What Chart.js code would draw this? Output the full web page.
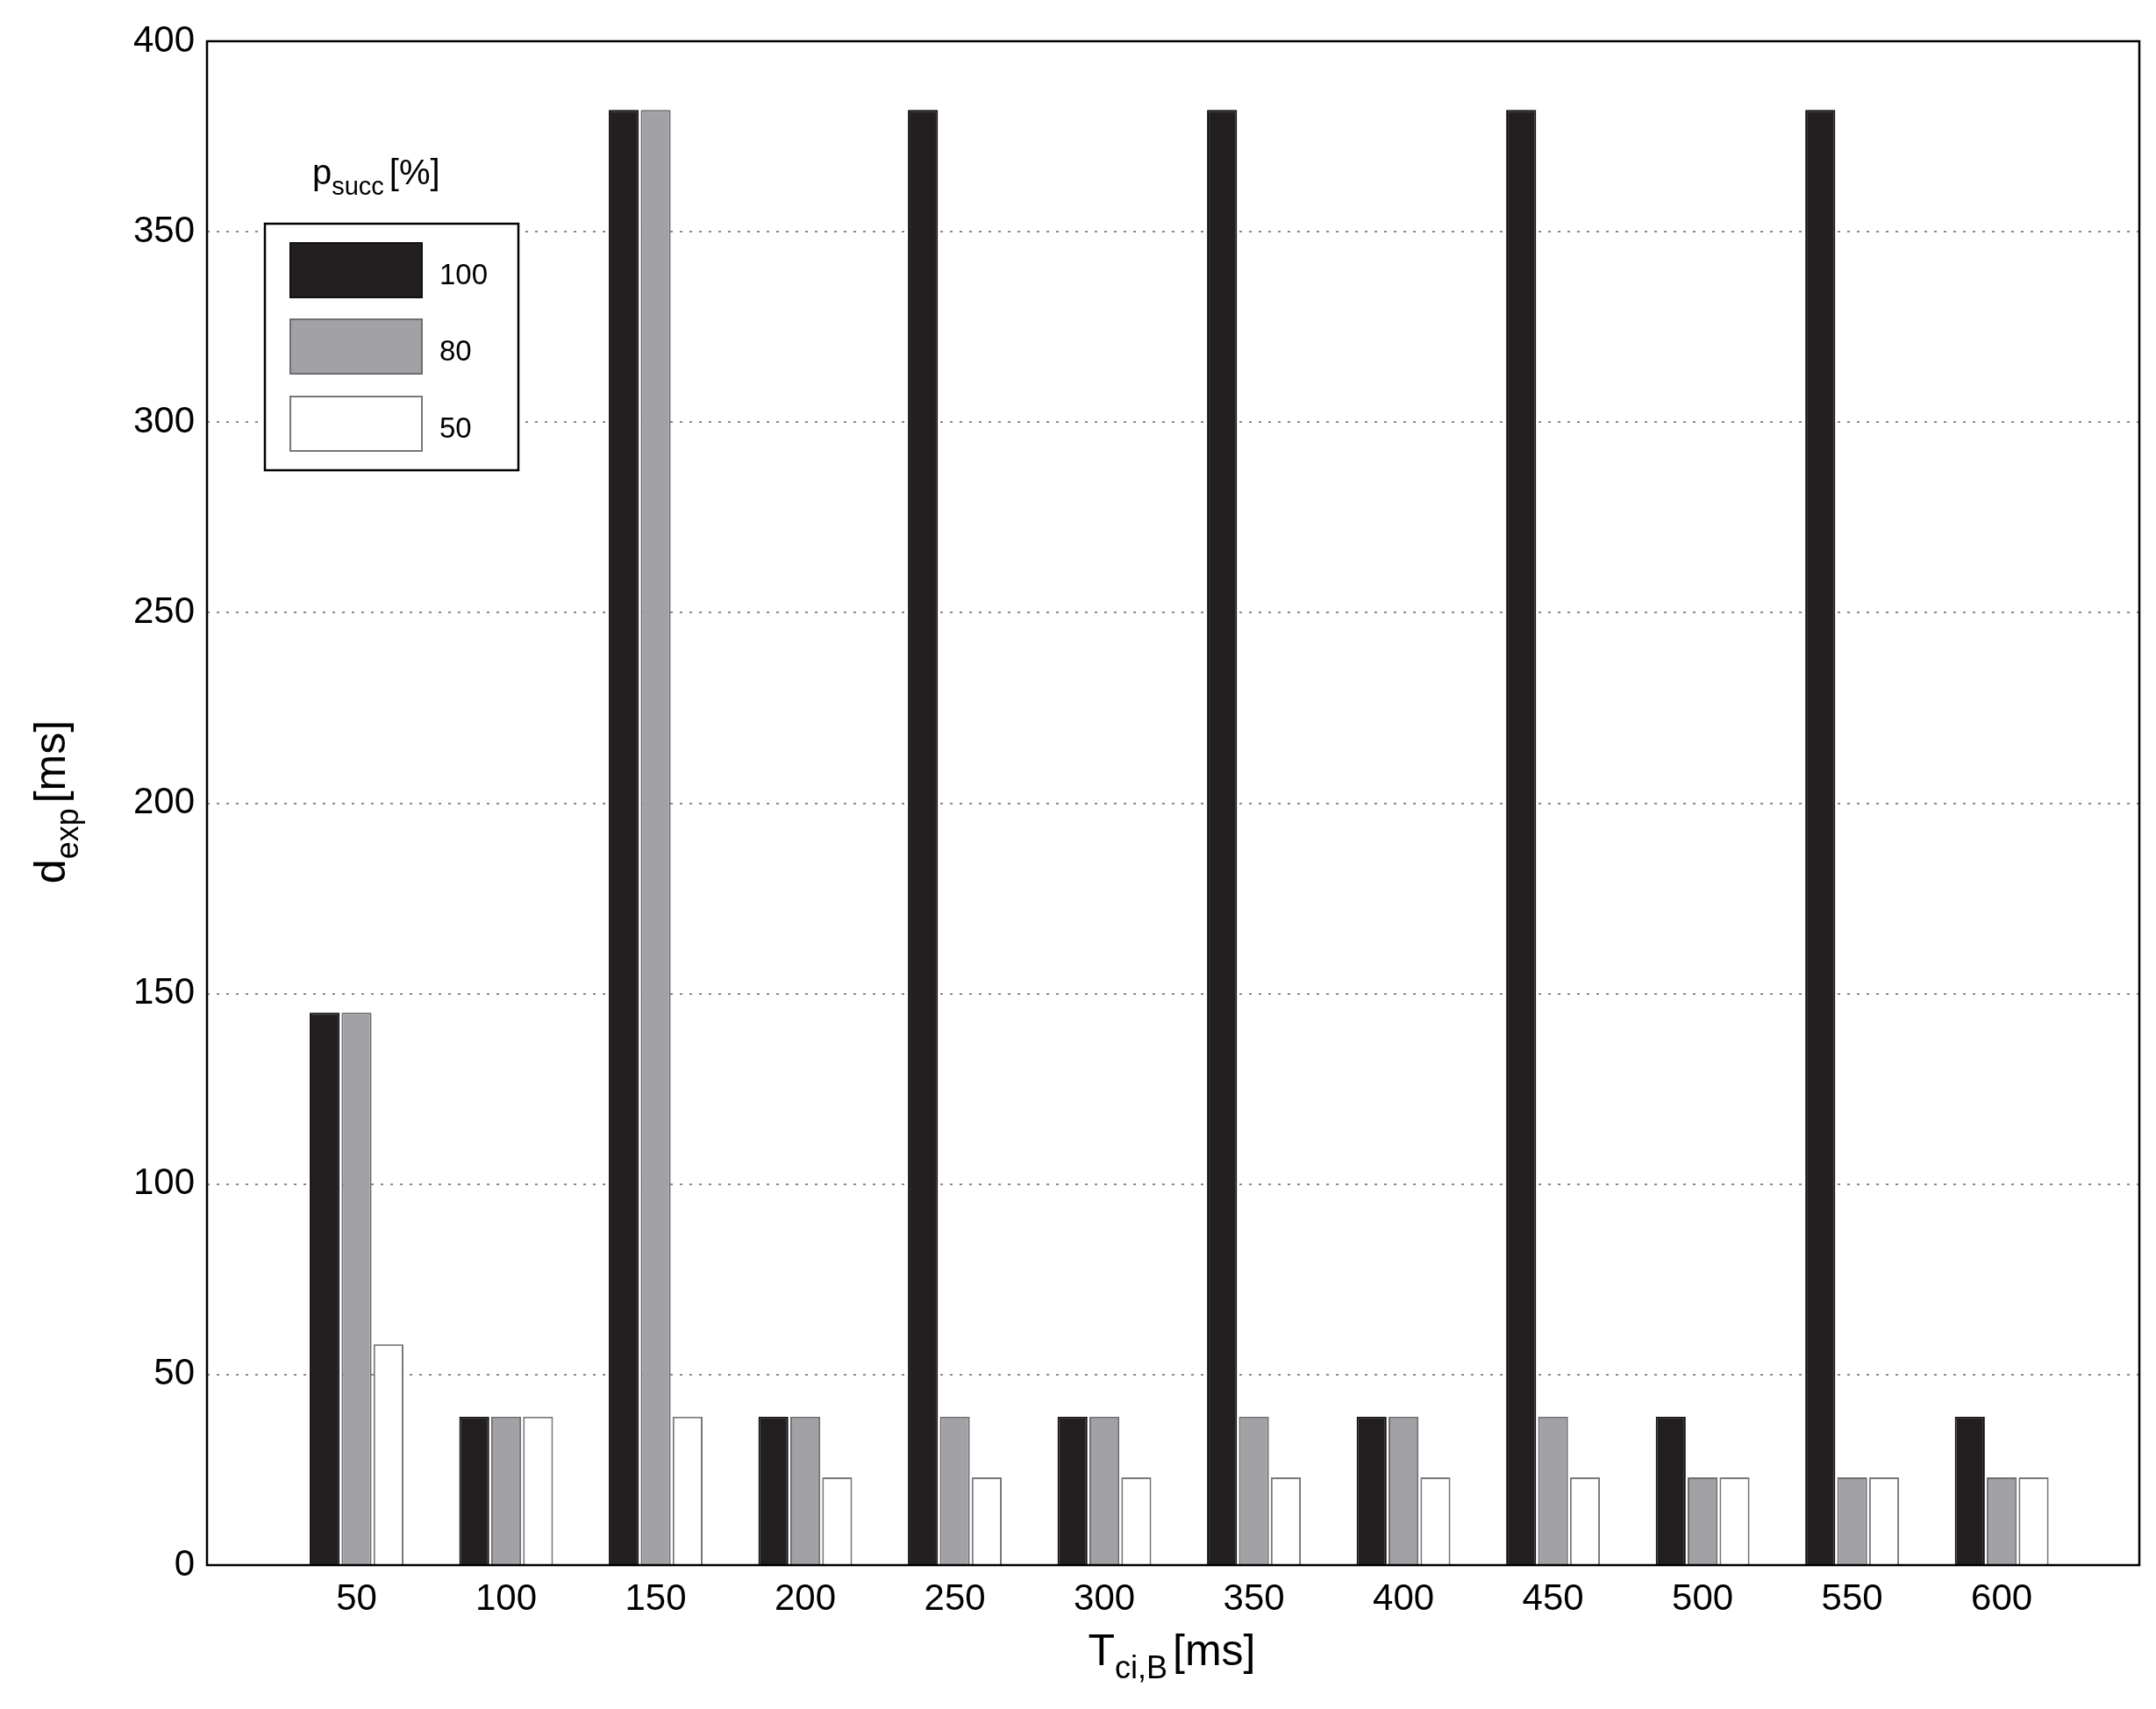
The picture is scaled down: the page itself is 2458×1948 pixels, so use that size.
<!DOCTYPE html>
<html>
<head>
<meta charset="utf-8">
<script src="https://cdn.jsdelivr.net/npm/chart.js@4.4.0/dist/chart.umd.min.js"></script>
<style>
  html, body { margin: 0; padding: 0; background: #fff; }
  #wrap { width: 2458px; height: 1948px; }
</style>
</head>
<body>
<div id="wrap"><canvas id="canvas"></canvas></div>
<script>
var periods = [50, 100, 150, 200, 250, 300, 350, 400, 450, 500, 550, 600];
var series100 = [145, 39, 382, 39, 382, 39, 382, 39, 382, 39, 382, 39];
var series80 = [145, 39, 382, 39, 39, 39, 39, 39, 39, 23, 23, 23];
var series50 = [58, 39, 39, 23, 23, 23, 23, 23, 23, 23, 23, 23];
var legendNames = ["100", "80", "50"];
var yTicks = [0, 50, 100, 150, 200, 250, 300, 350, 400];

var FONT = "'Liberation Sans', Arial, sans-serif";

function toPoints(vals) {
  var pts = [];
  for (var i = 0; i < periods.length; i++) pts.push({ x: periods[i], y: vals[i] });
  return pts;
}

var colors = ["#231f20", "#a2a2a6", "#ffffff"];
var borders = ["#111111", "#6e6e70", "#777777"];
var seriesList = [series100, series80, series50];

var datasets = [];
for (var s = 0; s < 3; s++) {
  datasets.push({
    label: legendNames[s],
    data: toPoints(seriesList[s]),
    backgroundColor: colors[s],
    borderColor: borders[s],
    borderWidth: 2,
    categoryPercentage: 0.64,
    barPercentage: 0.94
  });
}

// frame, legend and axis titles with subscripts
var decor = {
  id: "decor",
  afterDraw: function(chart) {
    var ctx = chart.ctx;
    var a = chart.chartArea;
    ctx.save();
    ctx.strokeStyle = "#000";
    ctx.lineWidth = 2.5;
    ctx.strokeRect(a.left, a.top, a.right - a.left, a.bottom - a.top);

    // legend
    ctx.fillStyle = "#fff";
    ctx.fillRect(302, 255, 289, 281);
    ctx.strokeRect(302, 255, 289, 281);
    var ys = [277, 364, 452];
    for (var i = 0; i < 3; i++) {
      ctx.fillStyle = colors[i];
      ctx.fillRect(331, ys[i], 150, 62);
      ctx.strokeStyle = borders[i];
      ctx.lineWidth = 2;
      ctx.strokeRect(331, ys[i], 150, 62);
      ctx.fillStyle = "#000";
      ctx.font = "33px " + FONT;
      ctx.textBaseline = "middle";
      ctx.textAlign = "left";
      ctx.fillText(legendNames[i], 501, ys[i] + 38);
    }

    function subText(x, y, main, sub, rest, size) {
      ctx.font = size + "px " + FONT;
      ctx.fillText(main, x, y);
      var w = ctx.measureText(main).width;
      ctx.font = Math.round(size * 0.72) + "px " + FONT;
      ctx.fillText(sub, x + w, y + size * 0.3);
      var w2 = ctx.measureText(sub).width;
      ctx.font = size + "px " + FONT;
      ctx.fillText(rest, x + w + w2 + 6, y);
    }
    function measure(main, sub, rest, size) {
      ctx.font = size + "px " + FONT;
      var w = ctx.measureText(main).width + ctx.measureText(rest).width + 6;
      ctx.font = Math.round(size * 0.72) + "px " + FONT;
      return w + ctx.measureText(sub).width;
    }

    ctx.fillStyle = "#000";
    ctx.textBaseline = "alphabetic";
    ctx.textAlign = "left";
    subText(356, 210, "p", "succ", "[%]", 40);

    var size = 50;
    var wx = measure("T", "ci,B", "[ms]", size);
    subText(1336 - wx / 2, 1898, "T", "ci,B", "[ms]", size);

    ctx.translate(74, 914);
    ctx.rotate(-Math.PI / 2);
    var wy = measure("d", "exp", "[ms]", size);
    subText(-wy / 2, 0, "d", "exp", "[ms]", size);
    ctx.restore();
  }
};

var ctx = document.getElementById("canvas").getContext("2d");
new Chart(ctx, {
  type: "bar",
  data: { datasets: datasets },
  options: {
    responsive: true,
    maintainAspectRatio: false,
    animation: false,
    layout: { padding: { left: 0, top: 47, right: 19, bottom: 0 } },
    plugins: { legend: { display: false }, tooltip: { enabled: false } },
    scales: {
      x: {
        type: "linear",
        offset: false,
        min: 0,
        max: 646,
        afterBuildTicks: function(scale) {
          scale.ticks = periods.map(function(v) { return { value: v }; });
        },
        afterFit: function(scale) { scale.height = 164; },
        grid: { display: false, drawTicks: false, offset: false },
        border: { display: false },
        ticks: { color: "#000", font: { family: FONT, size: 42 }, padding: 14, maxRotation: 0 }
      },
      y: {
        min: 0,
        max: 400,
        afterBuildTicks: function(scale) {
          scale.ticks = yTicks.map(function(v) { return { value: v }; });
        },
        afterFit: function(scale) { scale.width = 236; },
        grid: { color: "#8a8a8a", lineWidth: 2, drawTicks: false },
        border: { display: false, dash: [3, 8] },
        ticks: { color: "#000", font: { family: FONT, size: 42 }, padding: 14 }
      }
    }
  },
  plugins: [decor]
});
</script>
</body>
</html>
